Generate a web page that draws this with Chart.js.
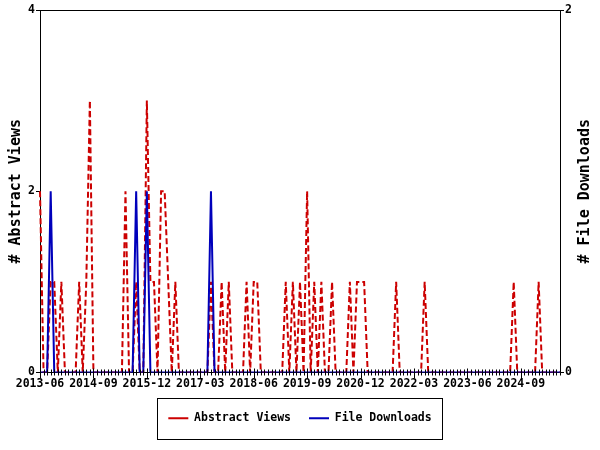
<!DOCTYPE html>
<html>
<head>
<meta charset="utf-8">
<script src="https://cdn.jsdelivr.net/npm/chart.js@4"></script>
<style>
  html, body { margin: 0; padding: 0; background: #fff; }
  #wrap { width: 600px; height: 450px; }
</style>
</head>
<body>
<div id="wrap"><canvas id="usageChart"></canvas></div>
<script>
// monthly categories, 2013-06 .. 2025-08
const firstYear = 2013, firstMonth = 6, monthCount = 147;
const months = [];
for (let i = 0; i < monthCount; i++) {
    const m = firstMonth - 1 + i;
    months.push((firstYear + Math.floor(m / 12)) + '-' + String(m % 12 + 1).padStart(2, '0'));
}
const labelEvery = 15; // one labelled tick every 15 months

const abstractViews = [
    2, 0, 0, 1, 1, 0, 1, 0, 0, 0,
    0, 1, 0, 1, 3, 0, 0, 0, 0, 0,
    0, 0, 0, 0, 2, 0, 0, 1, 0, 0,
    3, 1, 1, 0, 2, 2, 1, 0, 1, 0,
    0, 0, 0, 0, 0, 0, 0, 0, 1, 0,
    0, 1, 0, 1, 0, 0, 0, 0, 1, 0,
    1, 1, 0, 0, 0, 0, 0, 0, 0, 1,
    0, 1, 0, 1, 0, 2, 0, 1, 0, 1,
    0, 0, 1, 0, 0, 0, 0, 1, 0, 1,
    1, 1, 0, 0, 0, 0, 0, 0, 0, 0,
    1, 0, 0, 0, 0, 0, 0, 0, 1, 0,
    0, 0, 0, 0, 0, 0, 0, 0, 0, 0,
    0, 0, 0, 0, 0, 0, 0, 0, 0, 0,
    0, 0, 0, 1, 0, 0, 0, 0, 0, 0,
    1, 0, 0, 0, 0, 0, 0
];
const fileDownloads = [
    0, 0, 0, 1, 0, 0, 0, 0, 0, 0,
    0, 0, 0, 0, 0, 0, 0, 0, 0, 0,
    0, 0, 0, 0, 0, 0, 0, 1, 0, 0,
    1, 0, 0, 0, 0, 0, 0, 0, 0, 0,
    0, 0, 0, 0, 0, 0, 0, 0, 1, 0,
    0, 0, 0, 0, 0, 0, 0, 0, 0, 0,
    0, 0, 0, 0, 0, 0, 0, 0, 0, 0,
    0, 0, 0, 0, 0, 0, 0, 0, 0, 0,
    0, 0, 0, 0, 0, 0, 0, 0, 0, 0,
    0, 0, 0, 0, 0, 0, 0, 0, 0, 0,
    0, 0, 0, 0, 0, 0, 0, 0, 0, 0,
    0, 0, 0, 0, 0, 0, 0, 0, 0, 0,
    0, 0, 0, 0, 0, 0, 0, 0, 0, 0,
    0, 0, 0, 0, 0, 0, 0, 0, 0, 0,
    0, 0, 0, 0, 0, 0, 0
];
const viewTicks = [0, 2, 4];
const downloadTicks = [0, 2];
const leftTitle = '# Abstract Views';
const rightTitle = '# File Downloads';

const monoFont = "'DejaVu Sans Mono', 'Liberation Mono', monospace";
Chart.defaults.font.family = monoFont;
Chart.defaults.font.weight = 'bold';
Chart.defaults.font.size = 11.5;
Chart.defaults.color = '#000';

// top frame line, month ticks, right title, legend border
const decorations = {
    id: 'decorations',
    beforeDatasetsDraw(chart) {
        const {ctx, chartArea: a} = chart;
        ctx.save();
        ctx.strokeStyle = '#000';
        ctx.lineWidth = 1;
        ctx.beginPath();
        ctx.moveTo(a.left, a.top + 0.5);
        ctx.lineTo(a.right, a.top + 0.5);
        ctx.stroke();
        ctx.restore();
    },
    afterDatasetsDraw(chart) {
        const {ctx, chartArea: a, scales} = chart;
        ctx.save();
        ctx.strokeStyle = '#000';
        ctx.lineWidth = 1;
        ctx.beginPath();
        months.forEach((m, i) => {
            const x = Math.round(scales.x.getPixelForValue(i)) + 0.5;
            const major = i % labelEvery === 0;
            ctx.moveTo(x, a.bottom - (major ? 4 : 3));
            ctx.lineTo(x, a.bottom + (major ? 6 : 3));
        });
        ctx.stroke();
        ctx.restore();
    },
    afterDraw(chart) {
        const {ctx, chartArea: a, scales, legend} = chart;
        ctx.save();
        // right axis title, reading upward like the left one
        ctx.font = 'bold 15px ' + monoFont;
        ctx.fillStyle = '#000';
        ctx.textAlign = 'center';
        ctx.textBaseline = 'middle';
        ctx.translate(scales.y1.right - 15, (a.top + a.bottom) / 2);
        ctx.rotate(-Math.PI / 2);
        ctx.fillText(rightTitle, 0, 0);
        ctx.restore();

        const boxes = legend.legendHitBoxes;
        if (boxes && boxes.length) {
            const l = Math.min(...boxes.map(b => b.left)) - 11;
            const r = Math.max(...boxes.map(b => b.left + b.width)) + 11;
            const t = boxes[0].top - 15;
            const b = boxes[0].top + boxes[0].height + 14;
            ctx.save();
            ctx.strokeStyle = '#000';
            ctx.lineWidth = 1;
            ctx.strokeRect(Math.round(l) + 0.5, Math.round(t) + 0.5, Math.round(r - l), Math.round(b - t));
            ctx.restore();
        }
    }
};

const ctx = document.getElementById('usageChart').getContext('2d');
const usageChart = new Chart(ctx, {
    type: 'line',
    data: {
        labels: months,
        datasets: [{
            label: 'Abstract Views',
            data: abstractViews,
            yAxisID: 'y',
            borderColor: '#cc0000',
            backgroundColor: '#cc0000',
            borderWidth: 2,
            borderDash: [6, 3],
            pointRadius: 0,
            tension: 0,
            order: 1
        }, {
            label: 'File Downloads',
            data: fileDownloads,
            yAxisID: 'y1',
            borderColor: '#0000bb',
            backgroundColor: '#0000bb',
            borderWidth: 2,
            pointRadius: 0,
            tension: 0,
            order: 0
        }]
    },
    options: {
        responsive: true,
        maintainAspectRatio: false,
        animation: false,
        layout: { padding: { top: 10, bottom: 16, left: 0, right: 0 } },
        plugins: {
            tooltip: { enabled: false },
            legend: {
                display: true,
                position: 'bottom',
                labels: {
                    usePointStyle: true,
                    pointStyle: 'line',
                    pointStyleWidth: 20,
                    padding: 18,
                    color: '#000',
                    sort: (a, b) => a.datasetIndex - b.datasetIndex
                }
            }
        },
        scales: {
            x: {
                type: 'category',
                offset: false,
                grid: { display: true, drawOnChartArea: false, drawTicks: false, color: 'rgba(0,0,0,0)' },
                border: { display: true, color: '#000', width: 1 },
                ticks: {
                    autoSkip: false,
                    maxRotation: 0,
                    minRotation: 0,
                    padding: 5,
                    callback: function (val, idx) {
                        return idx % labelEvery === 0 ? this.getLabelForValue(val) : '';
                    }
                },
                afterFit: s => { s.height = 22; }
            },
            y: {
                position: 'left',
                min: 0,
                max: viewTicks[viewTicks.length - 1],
                grid: { drawOnChartArea: false, tickLength: 4, color: '#000' },
                border: { display: true, color: '#000', width: 1 },
                ticks: { stepSize: viewTicks[1] - viewTicks[0], padding: 1 },
                title: {
                    display: true,
                    text: leftTitle,
                    font: { size: 15, weight: 'bold' },
                    padding: { top: 7, bottom: 0 }
                },
                afterFit: s => { s.width = 40; }
            },
            y1: {
                position: 'right',
                min: 0,
                max: downloadTicks[downloadTicks.length - 1],
                grid: { drawOnChartArea: false, tickLength: 4, color: '#000' },
                border: { display: true, color: '#000', width: 1 },
                ticks: { stepSize: downloadTicks[1] - downloadTicks[0], padding: 1 },
                afterFit: s => { s.width = 40; }
            }
        }
    },
    plugins: [decorations]
});
</script>
</body>
</html>
